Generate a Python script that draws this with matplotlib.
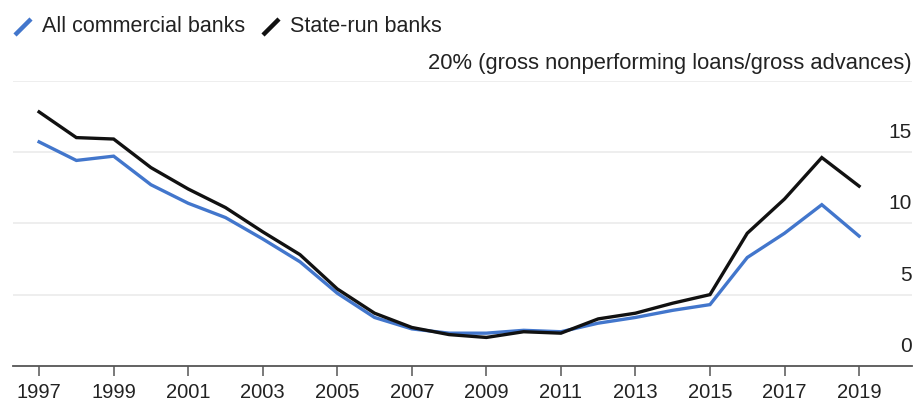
import matplotlib
matplotlib.use("Agg")
import matplotlib.pyplot as plt
from matplotlib.lines import Line2D

plt.rcParams['font.family'] = ['Liberation Sans', 'DejaVu Sans']

years = list(range(1997, 2020))
all_commercial = [15.7, 14.4, 14.7, 12.7, 11.4, 10.4, 8.9, 7.3, 5.1, 3.4, 2.6, 2.3,
                  2.3, 2.5, 2.4, 3.0, 3.4, 3.9, 4.3, 7.6, 9.3, 11.3, 9.1]
state_run = [17.8, 16.0, 15.9, 13.9, 12.4, 11.1, 9.4, 7.8, 5.4, 3.7, 2.7, 2.2,
             2.0, 2.4, 2.3, 3.3, 3.7, 4.4, 5.0, 9.3, 11.7, 14.6, 12.6]
xtick_years = list(range(1997, 2020, 2))
ytick_vals = [0, 5, 10, 15]
y_title = "20% (gross nonperforming loans/gross advances)"
series_names = ["All commercial banks", "State-run banks"]

blue = "#4276CC"
black = "#111111"
txt = "#222222"

fig = plt.figure(figsize=(9.15, 4.05), dpi=100)
ax = fig.add_axes([13/915, 1-366/405, (912-13)/915, (366-80.5)/405])

ax.plot(years, all_commercial, color=blue, lw=2.4, solid_joinstyle='miter', zorder=3)
ax.plot(years, state_run, color=black, lw=2.4, solid_joinstyle='miter', zorder=4)

ax.set_xlim(1996.30, 2020.42)
ax.set_ylim(0, 20)

for v in [5, 10, 15, 20]:
    ax.axhline(v, color="#e9e9e9", lw=1.1, zorder=1)

for s in ['top', 'right', 'left']:
    ax.spines[s].set_visible(False)
ax.spines['bottom'].set_color("#555555")
ax.spines['bottom'].set_linewidth(1.3)

ax.set_yticks([])
ax.set_xticks(xtick_years)
ax.set_xticklabels([str(y) for y in xtick_years], fontsize=14.5, color=txt)
ax.tick_params(axis='x', direction='out', length=7, width=1.1, color="#555555", pad=5)

trans = ax.get_yaxis_transform()
for v in ytick_vals:
    ax.text(1.0, v + 0.7, str(v), transform=trans, ha='right', va='bottom',
            fontsize=15, color=txt)
ax.text(1.0, 20 + 0.45, y_title, transform=trans, ha='right', va='bottom',
        fontsize=15.8, color=txt)

# legend
fig.add_artist(Line2D([15/915, 31/915], [1-35/405, 1-19/405], color=blue, lw=3.2,
                      transform=fig.transFigure, solid_capstyle='butt'))
fig.text(42/915, 1-27/405, series_names[0], ha='left', va='center', fontsize=15.5, color=txt)
fig.add_artist(Line2D([263/915, 279/915], [1-35/405, 1-19/405], color=black, lw=3.2,
                      transform=fig.transFigure, solid_capstyle='butt'))
fig.text(290/915, 1-27/405, series_names[1], ha='left', va='center', fontsize=15.5, color=txt)

fig.savefig("out.png", dpi=100)
